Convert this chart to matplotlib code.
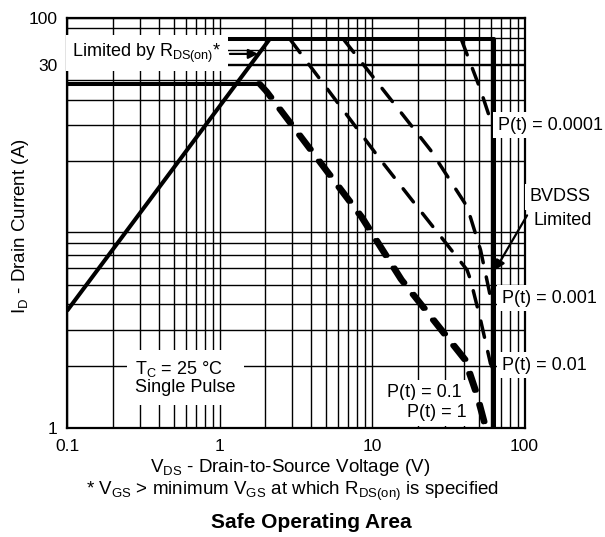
import matplotlib
import matplotlib.pyplot as plt

matplotlib.use('Agg')

plt.rcParams['font.family'] = ['Liberation Sans', 'DejaVu Sans']
plt.rcParams['mathtext.fontset'] = 'custom'
plt.rcParams['mathtext.rm'] = 'Liberation Sans'
plt.rcParams['mathtext.it'] = 'Liberation Sans:italic'
plt.rcParams['mathtext.bf'] = 'Liberation Sans:bold'
plt.rcParams['lines.scale_dashes'] = False

# --- data (V in volts, I in amps) ---
rds_v = [0.1, 2.13]
rds_i = [3.72, 79]

limit_v = [0.1, 63, 63]
limit_i = [79, 79, 1]

dc_v = [0.1, 1.8]
dc_i = [48, 48]

p1_v = [1.8, 2.0, 8.4, 15.3, 40.0, 48.0, 55.0]
p1_i = [48, 44, 10.7, 5.3, 2.15, 1.45, 1.0]

p01_v = [1.85, 2.06, 8.7, 15.8, 41.5, 49.5, 56.5]
p01_i = [48, 44, 10.7, 5.3, 2.15, 1.45, 1.0]

p001_v = [2.9, 11.4, 19.8, 42.0, 44.3, 51.5, 59.8, 63, 63]
p001_i = [79, 20.3, 12.0, 5.9, 5.27, 3.36, 2.06, 1.9, 1.0]

p0001_v = [6.5, 24.2, 42.1, 51.5, 59.8, 63, 63]
p0001_i = [79, 22.7, 12.0, 7.38, 4.36, 3.8, 1.0]

p00001_v = [38.5, 51.5, 59.8, 63]
p00001_i = [79, 44.7, 31.9, 30]

x_ticks = [0.1, 1, 10, 100]
x_labels = ['0.1', '1', '10', '100']
y_ticks = [1, 59, 100]
y_labels = ['1', '30', '100']

W, H = 605, 537
fig = plt.figure(figsize=(W / 100, H / 100), dpi=100)
ax = fig.add_axes([67 / W, 1 - 427.7 / H, 457.5 / W, 409.4 / H])

ax.set_xscale('log')
ax.set_yscale('log')
ax.set_xlim(0.1, 100)
ax.set_ylim(1, 100)

ax.grid(True, which='both', color='black', lw=1.0)
ax.set_axisbelow(True)
for sp in ax.spines.values():
    sp.set_linewidth(1.6)

ax.set_xticks(x_ticks)
ax.set_xticklabels(x_labels)
ax.set_yticks(y_ticks)
ax.set_yticklabels(y_labels)
ax.tick_params(which='both', length=0, labelsize=12.5)
ax.tick_params(axis='x', pad=8)
ax.tick_params(axis='y', pad=7)

solid = dict(color='black', lw=2.9, solid_capstyle='butt', zorder=3)
ax.plot(rds_v, rds_i, **solid)
ax.plot(limit_v, limit_i, **solid)
ax.plot(dc_v, dc_i, **solid)

thick = dict(color='black', lw=3.5, ls=(0, (13, 10.5)), dash_capstyle='round', zorder=3)
ax.plot(p1_v, p1_i, **thick)
ax.plot(p01_v, p01_i, **thick)

thin = dict(color='black', lw=2.5, ls=(0, (12, 10.5)), dash_capstyle='round', zorder=3)
ax.plot(p001_v, p001_i, **thin)
ax.plot(p0001_v, p0001_i, **thin)
ax.plot(p00001_v, p00001_i, **thin)

box = dict(boxstyle='square,pad=0.25', fc='white', ec='none')
fs = 13
ax.text(0.108, 67.7, r'Limited by R$_{\mathrm{DS(on)}}$*', fontsize=fs,
        va='center', ha='left',
        bbox=dict(boxstyle='square,pad=0.35', fc='white', ec='none'), zorder=4)
ax.annotate('', xy=(1.79, 67), xytext=(1.17, 67),
            arrowprops=dict(arrowstyle='-|>', color='black', lw=1.6,
                            mutation_scale=14, shrinkA=0, shrinkB=0), zorder=5)

ax.text(0.279, 1.75, 'T$_{\\mathrm{C}}$ = 25 °C\nSingle Pulse', fontsize=fs,
        va='center', ha='left', linespacing=1.0,
        bbox=dict(boxstyle='square,pad=0.45', fc='white', ec='none'), zorder=4)

ax.text(67, 30, 'P(t) = 0.0001', fontsize=fs, va='center', ha='left',
        bbox=box, zorder=4, clip_on=False)
ax.text(71, 4.3, 'P(t) = 0.001', fontsize=fs, va='center', ha='left',
        bbox=box, zorder=4, clip_on=False)
ax.text(71, 2.02, 'P(t) = 0.01', fontsize=fs, va='center', ha='left',
        bbox=box, zorder=4, clip_on=False)
ax.text(38.9, 1.48, 'P(t) = 0.1', fontsize=fs, va='center', ha='right',
        bbox=box, zorder=4)
ax.text(42, 1.18, 'P(t) = 1', fontsize=fs, va='center', ha='right',
        bbox=box, zorder=4)

ax.text(171, 13.4, 'BVDSS', fontsize=fs, va='center', ha='center',
        bbox=box, zorder=4, clip_on=False)
ax.text(179, 10.3, 'Limited', fontsize=fs, va='center', ha='center',
        bbox=box, zorder=4, clip_on=False)
ax.annotate('', xy=(64.1, 5.88), xytext=(104, 10.9),
            arrowprops=dict(arrowstyle='-|>', color='black', lw=1.6,
                            mutation_scale=14, shrinkA=0, shrinkB=0),
            annotation_clip=False, zorder=5)

fs2 = 13.5
fig.text(290 / W, 1 - 468 / H, r'V$_{\mathrm{DS}}$ - Drain-to-Source Voltage (V)',
         fontsize=fs2, ha='center', va='center')
fig.text(293 / W, 1 - 491 / H,
         r'* V$_{\mathrm{GS}}$ > minimum V$_{\mathrm{GS}}$ at which R$_{\mathrm{DS(on)}}$ is specified',
         fontsize=fs2, ha='center', va='center')
fig.text(311 / W, 1 - 522 / H, 'Safe Operating Area', fontsize=15,
         fontweight='bold', ha='center', va='center')
fig.text(21 / W, 1 - 226 / H, r'I$_{\mathrm{D}}$ - Drain Current (A)', fontsize=fs2,
         rotation=90, ha='center', va='center')

fig.savefig('out.png', dpi=100)
